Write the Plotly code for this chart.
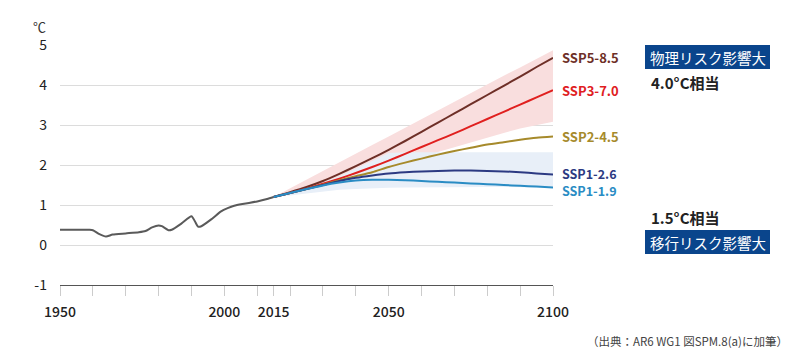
import plotly.graph_objects as go

# ---------------- data ----------------
hist_years = [1950, 1955, 1959, 1960, 1962, 1964, 1966, 1970, 1974, 1976, 1978, 1980, 1981,
              1983, 1984, 1987, 1990, 1991, 1992, 1993, 1996, 1999, 2001, 2003, 2006, 2010, 2013, 2015]
hist_vals = [0.38, 0.38, 0.38, 0.37, 0.27, 0.21, 0.26, 0.29, 0.32, 0.35, 0.44, 0.49, 0.47,
             0.37, 0.38, 0.54, 0.72, 0.60, 0.46, 0.47, 0.64, 0.84, 0.92, 0.98, 1.03, 1.09, 1.15, 1.20]

scen_years = [2015, 2020, 2025, 2030, 2035, 2040, 2045, 2050, 2055, 2060,
              2065, 2070, 2075, 2080, 2085, 2090, 2095, 2100]
ssp585 = [1.20, 1.32, 1.45, 1.60, 1.78, 1.97, 2.17, 2.38, 2.60, 2.83, 3.06, 3.29, 3.52, 3.75, 3.98, 4.21, 4.45, 4.68]
ssp370 = [1.20, 1.30, 1.41, 1.53, 1.66, 1.80, 1.95, 2.11, 2.28, 2.45, 2.62, 2.79, 2.97, 3.15, 3.33, 3.51, 3.69, 3.87]
ssp245 = [1.20, 1.30, 1.40, 1.51, 1.62, 1.72, 1.82, 1.95, 2.06, 2.16, 2.26, 2.35, 2.43, 2.51, 2.57, 2.63, 2.68, 2.71]
ssp126 = [1.20, 1.30, 1.40, 1.50, 1.60, 1.68, 1.74, 1.79, 1.82, 1.84, 1.85, 1.86, 1.86, 1.85, 1.84, 1.82, 1.79, 1.76]
ssp119 = [1.20, 1.30, 1.40, 1.49, 1.56, 1.61, 1.63, 1.63, 1.62, 1.60, 1.58, 1.56, 1.54, 1.52, 1.50, 1.48, 1.46, 1.44]

pink_upper = [1.20, 1.42, 1.63, 1.85, 2.06, 2.28, 2.50, 2.71, 2.93, 3.14, 3.36, 3.58, 3.79, 4.01, 4.23, 4.44, 4.66, 4.87]
pink_lower = [1.20, 1.30, 1.40, 1.51, 1.62, 1.73, 1.85, 1.97, 2.09, 2.20, 2.33, 2.45, 2.57, 2.68, 2.80, 2.91, 3.00, 3.08]
blue_upper = [1.20, 1.30, 1.42, 1.56, 1.72, 1.90, 2.10, 2.30, 2.32, 2.32, 2.32, 2.32, 2.32, 2.32, 2.32, 2.32, 2.32, 2.32]
blue_lower = [1.20, 1.24, 1.29, 1.34, 1.38, 1.40, 1.42, 1.43, 1.44, 1.45, 1.45, 1.45, 1.45, 1.45, 1.45, 1.45, 1.44, 1.43]

scenario_names = ["SSP5-8.5", "SSP3-7.0", "SSP2-4.5", "SSP1-2.6", "SSP1-1.9"]
scenario_colors = ["#6e2f27", "#e0201f", "#a68a2b", "#2c3a82", "#2a8cc4"]
label_shift = [0, 0, 0, 1, -3]
label_size = [13, 13, 13, 12.5, 12.5]

x_tickvals = [1950, 1960, 1970, 1980, 1990, 2000, 2010, 2015, 2020, 2030, 2040, 2050,
              2060, 2070, 2080, 2090, 2100]
x_ticktext = ["1950", "", "", "", "", "2000", "", "2015", "", "", "", "2050",
              "", "", "", "", "2100"]
y_tickvals = [-1, 0, 1, 2, 3, 4, 5]
y_ticktext = ["-1", "0", "1", "2", "3", "4", "5"]

FONT = "Noto Sans CJK JP"

fig = go.Figure()

# bands
fig.add_trace(go.Scatter(x=scen_years + scen_years[::-1], y=pink_upper + pink_lower[::-1],
                         fill="toself", fillcolor="#f9dede", line=dict(width=0),
                         mode="lines", hoverinfo="skip", showlegend=False))
fig.add_trace(go.Scatter(x=scen_years + scen_years[::-1], y=blue_upper + blue_lower[::-1],
                         fill="toself", fillcolor="#e8eff8", line=dict(width=0),
                         mode="lines", hoverinfo="skip", showlegend=False))

# historical
fig.add_trace(go.Scatter(x=hist_years, y=hist_vals, mode="lines",
                         line=dict(color="#5a5a5a", width=2, shape="spline", smoothing=0.6),
                         showlegend=False))

series = [ssp585, ssp370, ssp245, ssp126, ssp119]
for name, vals, col in zip(scenario_names, series, scenario_colors):
    fig.add_trace(go.Scatter(x=scen_years, y=vals, mode="lines", name=name,
                             line=dict(color=col, width=2, shape="spline", smoothing=0.6),
                             showlegend=False))

annotations = []
for name, vals, col, sh, sz in zip(scenario_names, series, scenario_colors, label_shift, label_size):
    annotations.append(dict(x=2100, y=vals[-1], xref="x", yref="y", text=name,
                            showarrow=False, xanchor="left", yanchor="middle",
                            xshift=7, yshift=sh,
                            font=dict(family=FONT, size=sz, color=col, weight="bold")))

# page body offset of 8px in the browser
OFF = 8
SL, ST = 60, 45          # plot left/top in screen pixels
PW, PH = 493, 240
L, T = SL - OFF, ST - OFF
R = 800 - L - PW
B = 360 - T - PH


def px(x):
    return (x - SL) / PW


def py(y):
    return (ST + PH - y) / PH


# label boxes
shapes = [
    dict(type="rect", xref="paper", yref="paper", x0=px(645), x1=px(770), y0=py(69), y1=py(45),
         fillcolor="#0a458c", line=dict(width=0), layer="above"),
    dict(type="rect", xref="paper", yref="paper", x0=px(645), x1=px(770), y0=py(254), y1=py(230),
         fillcolor="#0a458c", line=dict(width=0), layer="above"),
]

annotations += [
    dict(x=px(707.5), y=py(57), xref="paper", yref="paper", text="物理リスク影響大",
         showarrow=False, xanchor="center", yanchor="middle",
         font=dict(family=FONT, size=14.5, color="white")),
    dict(x=px(649), y=py(82), xref="paper", yref="paper", text="4.0°C相当",
         showarrow=False, xanchor="left", yanchor="middle",
         font=dict(family=FONT, size=15, color="#222", weight="bold")),
    dict(x=px(649), y=py(217), xref="paper", yref="paper", text="1.5°C相当",
         showarrow=False, xanchor="left", yanchor="middle",
         font=dict(family=FONT, size=15, color="#222", weight="bold")),
    dict(x=px(707.5), y=py(242), xref="paper", yref="paper", text="移行リスク影響大",
         showarrow=False, xanchor="center", yanchor="middle",
         font=dict(family=FONT, size=14.5, color="white")),
    dict(x=px(48), y=py(26), xref="paper", yref="paper", text="℃",
         showarrow=False, xanchor="right", yanchor="middle",
         font=dict(family=FONT, size=13, color="#333")),
    dict(x=px(790), y=py(341), xref="paper", yref="paper", text="（出典：AR6 WG1 図SPM.8(a)に加筆）",
         showarrow=False, xanchor="right", yanchor="middle",
         font=dict(family=FONT, size=11.5, color="#444")),
]

fig.update_layout(
    width=800, height=360,
    margin=dict(l=L, r=R, t=T, b=B),
    paper_bgcolor="white", plot_bgcolor="white",
    font=dict(family=FONT, size=14, color="#333"),
    shapes=shapes, annotations=annotations,
    xaxis=dict(range=[1950, 2100], tickmode="array", tickvals=x_tickvals, ticktext=x_ticktext,
               showgrid=False, zeroline=False, showline=True, linecolor="#555", linewidth=1,
               ticks="outside", ticklen=10, tickcolor="#ccc", tickwidth=1,
               ticklabelstandoff=4,
               tickfont=dict(family=FONT, size=14, color="#222", weight=500)),
    yaxis=dict(range=[-1, 5], tickmode="array", tickvals=y_tickvals, ticktext=y_ticktext,
               showgrid=True, gridcolor="#dcdcdc", gridwidth=1, zeroline=False, showline=False,
               ticks="", ticklabelstandoff=12,
               tickfont=dict(family=FONT, size=14, color="#222")),
)

fig.write_html("out.html")
